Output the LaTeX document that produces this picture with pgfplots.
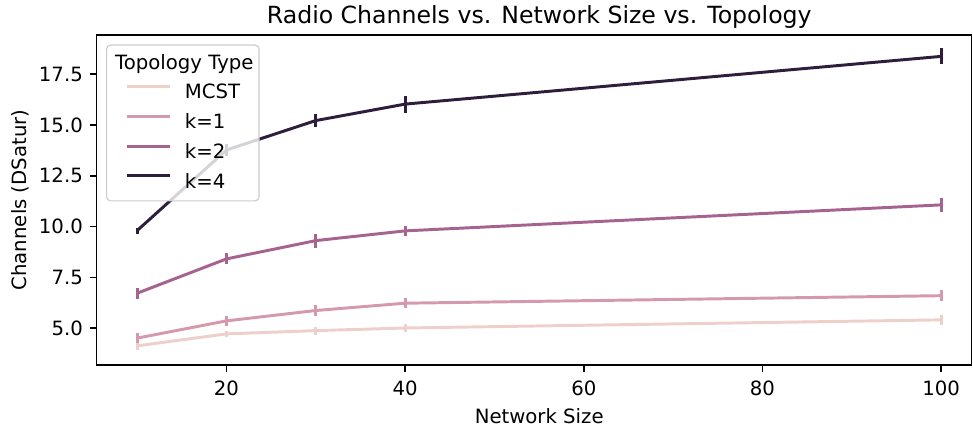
\documentclass[border=0pt]{standalone}
\usepackage{fontspec}
\setmainfont{DejaVu Sans}
\usepackage{pgfplots}
\usepackage{pgfplotstable}
\pgfplotsset{compat=1.18}
\definecolor{cM}{RGB}{238,208,203}
\definecolor{cA}{RGB}{212,154,172}
\definecolor{cB}{RGB}{166,99,143}
\definecolor{cD}{RGB}{45,30,62}
\pgfplotstableread{
x y e
10 4.13 0.20
20 4.72 0.16
30 4.88 0.20
40 5.01 0.19
100 5.41 0.25
}\tMCST
\pgfplotstableread{
x y e
10 4.51 0.25
20 5.36 0.23
30 5.87 0.25
40 6.23 0.25
100 6.60 0.26
}\tKa
\pgfplotstableread{
x y e
10 6.72 0.26
20 8.41 0.27
30 9.31 0.34
40 9.79 0.26
100 11.07 0.34
}\tKb
\pgfplotstableread{
x y e
10 9.80 0.15
20 13.77 0.29
30 15.22 0.32
40 16.03 0.42
100 18.38 0.39
}\tKd
\begin{document}
\begin{tikzpicture}
\begin{axis}[
  at={(0,0)}, anchor=south west,
  scale only axis, width=444.5pt, height=167.6pt,
  xmin=5.48, xmax=103.41, ymin=3.19, ymax=19.43,
  xtick={20,40,60,80,100}, ytick={5,7.5,10,12.5,15,17.5},
  yticklabel style={/pgf/number format/.cd, fixed, fixed zerofill, precision=1},
  xticklabel style={yshift=-1.3pt},
  /pgf/number format/assume math mode=true,
  font=\fontsize{10}{12}\selectfont,
  tick align=outside, major tick length=3.5pt,
  tick style={black, line width=0.8pt},
  axis line style={line width=0.8pt},
  xtick pos=bottom, ytick pos=left,
  title={Radio Channels vs. Network Size vs. Topology},
  title style={font=\fontsize{12}{14.4}\selectfont, at={(axis description cs:0.5058,1)}, anchor=base, yshift=0pt, inner sep=0pt},
  xlabel={Network Size},
  xlabel style={at={(axis description cs:0.5058,0)}, anchor=base, yshift=-29.8pt, inner sep=0pt},
  ylabel={Channels (DSatur)},
  ylabel style={at={(axis description cs:-0.0801,0.5)}, anchor=base, inner sep=0pt},
  legend cell align=left,
  legend image code/.code={\path[draw=none, fill=none] (0pt,0pt) rectangle (36pt,0.1pt); \draw[#1, line width=1.5pt] (6.7pt,3.35pt) -- (28.4pt,3.35pt);},
  legend style={at={(axis description cs:0.01143,0.9697)}, anchor=north west,
    draw=black!20, line width=0.6pt, rounded corners=2pt,
    fill=white, fill opacity=0.8, draw opacity=1, text opacity=1,
    inner xsep=3.8pt, inner ysep=4.3pt, outer sep=0pt, row sep=4.95pt, column sep=0pt,
    font=\fontsize{10}{12}\selectfont,
    nodes={text height=8pt, text depth=2.15pt, inner sep=0pt}},
  every axis plot/.append style={line width=1.5pt, line join=round},
]
\addlegendimage{empty legend}
\addlegendentry{\hspace*{-35.5pt}Topology Type\hspace*{-1pt}}
\addplot[cM, no marks, error bars/.cd, y dir=both, y explicit, error mark=none, error bar style={line width=1.5pt, cM}] table[x=x, y=y, y error=e] {\tMCST};
\addlegendentry{MCST}
\addplot[cA, no marks, error bars/.cd, y dir=both, y explicit, error mark=none, error bar style={line width=1.5pt, cA}] table[x=x, y=y, y error=e] {\tKa};
\addlegendentry{k=1}
\addplot[cB, no marks, error bars/.cd, y dir=both, y explicit, error mark=none, error bar style={line width=1.5pt, cB}] table[x=x, y=y, y error=e] {\tKb};
\addlegendentry{k=2}
\addplot[cD, no marks, error bars/.cd, y dir=both, y explicit, error mark=none, error bar style={line width=1.5pt, cD}] table[x=x, y=y, y error=e] {\tKd};
\addlegendentry{k=4}
\end{axis}
\pgfresetboundingbox
\path[use as bounding box] (-49.1pt,-32.5pt) rectangle (445.2pt,185.4pt);
\end{tikzpicture}
\end{document}
